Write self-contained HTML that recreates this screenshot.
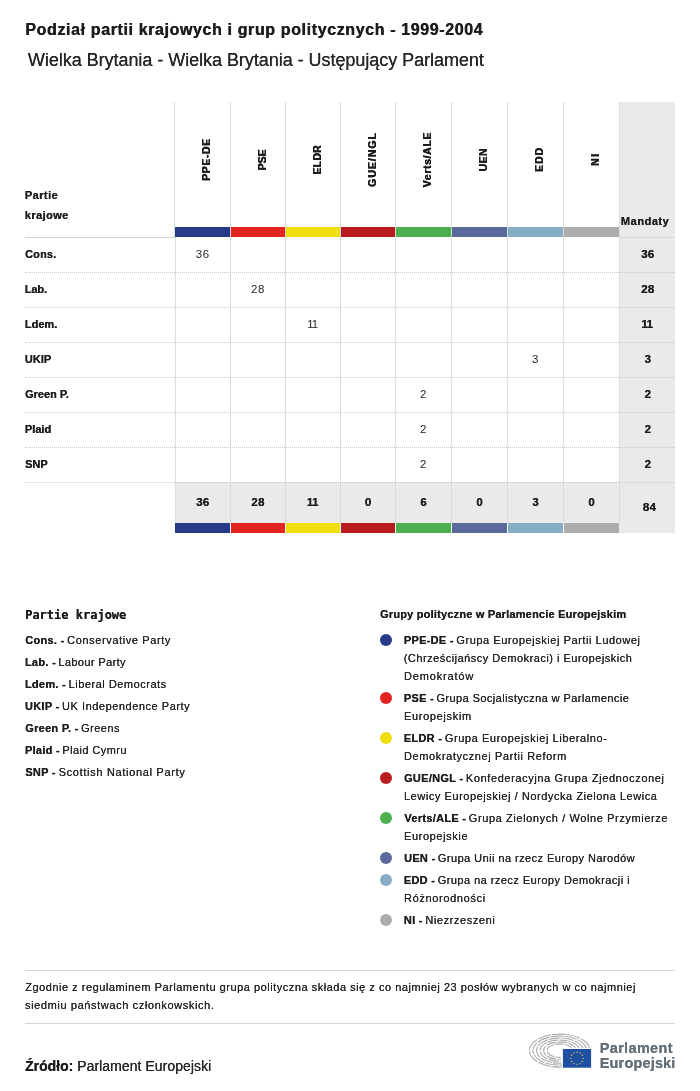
<!DOCTYPE html>
<html lang="pl"><head><meta charset="utf-8"><title>Podział partii krajowych i grup politycznych</title>
<style>
html,body{margin:0;padding:0;background:#fff;}
body{width:700px;height:1091px;position:relative;overflow:hidden;font-family:"Liberation Sans",sans-serif;color:#1d1d1b;}
span{text-shadow:0.12px 0 0 #262626;}
.ch span{text-shadow:0.4px 0 0 #1d1d1b,0 0.25px 0 #1d1d1b;}
.a{position:absolute;white-space:nowrap;}
b{font-weight:bold;}
.vl{position:absolute;width:1px;background:#dbdbdb;}
.hd{position:absolute;height:0;border-top:1px dotted #cbcbcb;left:25px;width:650px;}
.num{position:absolute;text-align:center;font-size:11.5px;line-height:14px;color:#262626;letter-spacing:0.6px;}
.tot{position:absolute;text-align:center;font-size:11.5px;line-height:14px;font-weight:bold;text-shadow:0.3px 0 0 #1d1d1b;color:#1d1d1b;letter-spacing:0.3px;}
.ch{position:absolute;font-size:10.5px;line-height:14px;font-weight:bold;text-shadow:0.4px 0 0 #1d1d1b,0 0.25px 0 #1d1d1b;transform:rotate(-90deg);transform-origin:center center;text-align:center;white-space:nowrap;width:100px;margin-left:-50px;}
.dot{position:absolute;width:12px;height:12px;border-radius:50%;}
</style></head><body>
<div style="position:absolute;left:619px;top:102px;width:56px;height:431px;background:#eaeaea;"></div>
<div style="position:absolute;left:175px;top:482px;width:445px;height:41px;background:#eaeaea;"></div>
<div class="vl" style="left:174px;top:102px;height:135px;"></div>
<div class="vl" style="left:175px;top:237px;height:286px;"></div>
<div class="vl" style="left:230.0px;top:102px;height:421px;"></div>
<div class="vl" style="left:285.0px;top:102px;height:421px;"></div>
<div class="vl" style="left:340.0px;top:102px;height:421px;"></div>
<div class="vl" style="left:395.0px;top:102px;height:421px;"></div>
<div class="vl" style="left:451.0px;top:102px;height:421px;"></div>
<div class="vl" style="left:507.0px;top:102px;height:421px;"></div>
<div class="vl" style="left:563.0px;top:102px;height:421px;"></div>
<div class="vl" style="left:619.0px;top:102px;height:421px;"></div>
<div style="position:absolute;left:25px;top:237px;width:150px;height:1px;background:#d2d2d2;"></div>
<div style="position:absolute;left:619px;top:237px;width:56px;height:1px;background:#d8d8d8;"></div>
<div class="hd" style="top:272px;"></div>
<div class="hd" style="top:307px;"></div>
<div class="hd" style="top:342px;"></div>
<div class="hd" style="top:377px;"></div>
<div class="hd" style="top:412px;"></div>
<div class="hd" style="top:447px;"></div>
<div class="hd" style="top:482px;"></div>
<div style="position:absolute;left:175.0px;top:227px;width:55.0px;height:10px;background:#263a8a;"></div>
<div style="position:absolute;left:175.0px;top:523px;width:55.0px;height:10px;background:#263a8a;"></div>
<div style="position:absolute;left:231.0px;top:227px;width:54.0px;height:10px;background:#e2231f;"></div>
<div style="position:absolute;left:231.0px;top:523px;width:54.0px;height:10px;background:#e2231f;"></div>
<div style="position:absolute;left:286.0px;top:227px;width:54.0px;height:10px;background:#f0de12;"></div>
<div style="position:absolute;left:286.0px;top:523px;width:54.0px;height:10px;background:#f0de12;"></div>
<div style="position:absolute;left:341.0px;top:227px;width:54.0px;height:10px;background:#b81c1f;"></div>
<div style="position:absolute;left:341.0px;top:523px;width:54.0px;height:10px;background:#b81c1f;"></div>
<div style="position:absolute;left:396.0px;top:227px;width:55.0px;height:10px;background:#4caf50;"></div>
<div style="position:absolute;left:396.0px;top:523px;width:55.0px;height:10px;background:#4caf50;"></div>
<div style="position:absolute;left:452.0px;top:227px;width:55.0px;height:10px;background:#5a6a9a;"></div>
<div style="position:absolute;left:452.0px;top:523px;width:55.0px;height:10px;background:#5a6a9a;"></div>
<div style="position:absolute;left:508.0px;top:227px;width:55.0px;height:10px;background:#86adc4;"></div>
<div style="position:absolute;left:508.0px;top:523px;width:55.0px;height:10px;background:#86adc4;"></div>
<div style="position:absolute;left:564.0px;top:227px;width:55.0px;height:10px;background:#adadad;"></div>
<div style="position:absolute;left:564.0px;top:523px;width:55.0px;height:10px;background:#adadad;"></div>
<div class="ch" style="left:205.9px;top:152.6px;letter-spacing:0.58px;"><span style="margin-right:-0.58px">PPE-DE</span></div>
<div class="ch" style="left:261.9px;top:152.6px;letter-spacing:-0.01px;"><span style="margin-right:0.01px">PSE</span></div>
<div class="ch" style="left:316.9px;top:152.6px;letter-spacing:0.22px;"><span style="margin-right:-0.22px">ELDR</span></div>
<div class="ch" style="left:371.9px;top:152.6px;letter-spacing:0.99px;"><span style="margin-right:-0.99px">GUE/NGL</span></div>
<div class="ch" style="left:427.4px;top:152.6px;letter-spacing:0.64px;"><span style="margin-right:-0.64px">Verts/ALE</span></div>
<div class="ch" style="left:483.4px;top:152.6px;letter-spacing:0.48px;"><span style="margin-right:-0.48px">UEN</span></div>
<div class="ch" style="left:539.4px;top:152.6px;letter-spacing:0.96px;"><span style="margin-right:-0.96px">EDD</span></div>
<div class="ch" style="left:595.4px;top:152.6px;letter-spacing:1.30px;"><span style="margin-right:-1.30px">NI</span></div>
<div class="num" style="left:174.8px;top:247px;width:56px;">36</div>
<div class="tot" style="left:620.0px;top:247px;width:55.6px;">36</div>
<div class="num" style="left:230.0px;top:282px;width:56px;">28</div>
<div class="tot" style="left:620.0px;top:282px;width:55.6px;">28</div>
<div class="num" style="left:284.1px;top:317px;width:56px;letter-spacing:-1.1px;">11</div>
<div class="tot" style="left:619.1px;top:317px;width:55.6px;letter-spacing:-0.4px;">11</div>
<div class="num" style="left:507.5px;top:352px;width:56px;">3</div>
<div class="tot" style="left:620.0px;top:352px;width:55.6px;">3</div>
<div class="num" style="left:395.5px;top:387px;width:56px;">2</div>
<div class="tot" style="left:620.0px;top:387px;width:55.6px;">2</div>
<div class="num" style="left:395.5px;top:422px;width:56px;">2</div>
<div class="tot" style="left:620.0px;top:422px;width:55.6px;">2</div>
<div class="num" style="left:395.5px;top:457px;width:56px;">2</div>
<div class="tot" style="left:620.0px;top:457px;width:55.6px;">2</div>
<div class="tot" style="left:174.8px;top:495px;width:56px;">36</div>
<div class="tot" style="left:230.0px;top:495px;width:56px;">28</div>
<div class="tot" style="left:284.4px;top:495px;width:56px;letter-spacing:-0.4px;">11</div>
<div class="tot" style="left:340.0px;top:495px;width:56px;">0</div>
<div class="tot" style="left:395.5px;top:495px;width:56px;">6</div>
<div class="tot" style="left:451.5px;top:495px;width:56px;">0</div>
<div class="tot" style="left:507.5px;top:495px;width:56px;">3</div>
<div class="tot" style="left:563.5px;top:495px;width:56px;">0</div>
<div class="tot" style="left:620px;top:500px;width:59px;">84</div>
<div class="a" style="left:25.14px;top:20px;font-size:16px;line-height:20px;font-family:'Liberation Sans',sans-serif"><b style="color:#1d1d1b;letter-spacing:0.62px;text-shadow:0.45px 0 0 #1d1d1b">Podział partii krajowych i grup politycznych - 1999-2004</b></div>
<div class="a" style="left:27.86px;top:50px;font-size:18px;line-height:20px;font-family:'Liberation Sans',sans-serif"><span style="color:#262626;letter-spacing:-0.04px">Wielka Brytania - Wielka Brytania - Ustępujący Parlament</span></div>
<div class="a" style="left:24.77px;top:185px;font-size:11px;line-height:20px;font-family:'Liberation Sans',sans-serif"><b style="color:#1d1d1b;letter-spacing:0.44px;text-shadow:0.3px 0 0 #1d1d1b">Partie</b></div>
<div class="a" style="left:24.80px;top:205px;font-size:11px;line-height:20px;font-family:'Liberation Sans',sans-serif"><b style="color:#1d1d1b;letter-spacing:0.40px;text-shadow:0.3px 0 0 #1d1d1b">krajowe</b></div>
<div class="a" style="left:620.80px;top:211px;font-size:11px;line-height:20px;font-family:'Liberation Sans',sans-serif"><b style="color:#1d1d1b;letter-spacing:0.53px;text-shadow:0.3px 0 0 #1d1d1b">Mandaty</b></div>
<div class="a" style="left:24.88px;top:244px;font-size:11px;line-height:20px;font-family:'Liberation Sans',sans-serif"><b style="color:#1d1d1b;letter-spacing:0.17px;text-shadow:0.3px 0 0 #1d1d1b">Cons.</b></div>
<div class="a" style="left:24.77px;top:279px;font-size:11px;line-height:20px;font-family:'Liberation Sans',sans-serif"><b style="color:#1d1d1b;letter-spacing:-0.16px;text-shadow:0.3px 0 0 #1d1d1b">Lab.</b></div>
<div class="a" style="left:24.77px;top:314px;font-size:11px;line-height:20px;font-family:'Liberation Sans',sans-serif"><b style="color:#1d1d1b;letter-spacing:0;text-shadow:0.3px 0 0 #1d1d1b">Ldem.</b></div>
<div class="a" style="left:24.82px;top:349px;font-size:11px;line-height:20px;font-family:'Liberation Sans',sans-serif"><b style="color:#1d1d1b;letter-spacing:0;text-shadow:0.3px 0 0 #1d1d1b">UKIP</b></div>
<div class="a" style="left:24.88px;top:384px;font-size:11px;line-height:20px;font-family:'Liberation Sans',sans-serif"><b style="color:#1d1d1b;letter-spacing:0;text-shadow:0.3px 0 0 #1d1d1b">Green P.</b></div>
<div class="a" style="left:24.77px;top:419px;font-size:11px;line-height:20px;font-family:'Liberation Sans',sans-serif"><b style="color:#1d1d1b;letter-spacing:0;text-shadow:0.3px 0 0 #1d1d1b">Plaid</b></div>
<div class="a" style="left:24.97px;top:454px;font-size:11px;line-height:20px;font-family:'Liberation Sans',sans-serif"><b style="color:#1d1d1b;letter-spacing:0;text-shadow:0.3px 0 0 #1d1d1b">SNP</b></div>
<div class="a" style="left:25.17px;top:605px;font-size:12px;line-height:20px;font-family:'DejaVu Sans Mono','Liberation Mono',monospace"><b style="color:#1d1d1b;letter-spacing:0;text-shadow:0px 0 0 #1d1d1b">Partie krajowe</b></div>
<div class="a" style="left:25.17px;top:630px;font-size:11px;line-height:20px;font-family:'Liberation Sans',sans-serif"><b style="color:#1d1d1b;letter-spacing:0.28px;text-shadow:0.2px 0 0 #1d1d1b">Cons. -</b><span style="color:#262626;letter-spacing:0.61px;margin-left:-1px"> Conservative Party</span></div>
<div class="a" style="left:24.88px;top:652px;font-size:11px;line-height:20px;font-family:'Liberation Sans',sans-serif"><b style="color:#1d1d1b;letter-spacing:0.28px;text-shadow:0.2px 0 0 #1d1d1b">Lab. -</b><span style="color:#262626;letter-spacing:0.38px;margin-left:-1px"> Labour Party</span></div>
<div class="a" style="left:24.88px;top:674px;font-size:11px;line-height:20px;font-family:'Liberation Sans',sans-serif"><b style="color:#1d1d1b;letter-spacing:0.28px;text-shadow:0.2px 0 0 #1d1d1b">Ldem. -</b><span style="color:#262626;letter-spacing:0.52px;margin-left:-1px"> Liberal Democrats</span></div>
<div class="a" style="left:24.92px;top:696px;font-size:11px;line-height:20px;font-family:'Liberation Sans',sans-serif"><b style="color:#1d1d1b;letter-spacing:0.28px;text-shadow:0.2px 0 0 #1d1d1b">UKIP -</b><span style="color:#262626;letter-spacing:0.54px;margin-left:-1px"> UK Independence Party</span></div>
<div class="a" style="left:25.17px;top:718px;font-size:11px;line-height:20px;font-family:'Liberation Sans',sans-serif"><b style="color:#1d1d1b;letter-spacing:0.28px;text-shadow:0.2px 0 0 #1d1d1b">Green P. -</b><span style="color:#262626;letter-spacing:0.46px;margin-left:-1px"> Greens</span></div>
<div class="a" style="left:24.88px;top:740px;font-size:11px;line-height:20px;font-family:'Liberation Sans',sans-serif"><b style="color:#1d1d1b;letter-spacing:0.28px;text-shadow:0.2px 0 0 #1d1d1b">Plaid -</b><span style="color:#262626;letter-spacing:0.42px;margin-left:-1px"> Plaid Cymru</span></div>
<div class="a" style="left:25.26px;top:762px;font-size:11px;line-height:20px;font-family:'Liberation Sans',sans-serif"><b style="color:#1d1d1b;letter-spacing:0.28px;text-shadow:0.2px 0 0 #1d1d1b">SNP -</b><span style="color:#262626;letter-spacing:0.68px;margin-left:-1px"> Scottish National Party</span></div>
<div class="a" style="left:380.02px;top:604px;font-size:11px;line-height:20px;font-family:'Liberation Sans',sans-serif"><b style="color:#1d1d1b;letter-spacing:0.20px;text-shadow:0.2px 0 0 #1d1d1b">Grupy polityczne w Parlamencie Europejskim</b></div>
<div class="a" style="left:403.77px;top:630px;font-size:11px;line-height:20px;font-family:'Liberation Sans',sans-serif"><b style="color:#1d1d1b;letter-spacing:0.28px;text-shadow:0.2px 0 0 #1d1d1b">PPE-DE -</b><span style="color:#262626;letter-spacing:0.56px;margin-left:-1px"> Grupa Europejskiej Partii Ludowej</span></div>
<div class="a" style="left:403.73px;top:648px;font-size:11px;line-height:20px;font-family:'Liberation Sans',sans-serif"><span style="color:#262626;letter-spacing:0.49px">(Chrześcijańscy Demokraci) i Europejskich</span></div>
<div class="a" style="left:403.94px;top:666px;font-size:11px;line-height:20px;font-family:'Liberation Sans',sans-serif"><span style="color:#262626;letter-spacing:0.84px">Demokratów</span></div>
<div class="a" style="left:403.77px;top:688px;font-size:11px;line-height:20px;font-family:'Liberation Sans',sans-serif"><b style="color:#1d1d1b;letter-spacing:0.28px;text-shadow:0.2px 0 0 #1d1d1b">PSE -</b><span style="color:#262626;letter-spacing:0.42px;margin-left:-1px"> Grupa Socjalistyczna w Parlamencie</span></div>
<div class="a" style="left:403.94px;top:706px;font-size:11px;line-height:20px;font-family:'Liberation Sans',sans-serif"><span style="color:#262626;letter-spacing:0.66px">Europejskim</span></div>
<div class="a" style="left:403.77px;top:728px;font-size:11px;line-height:20px;font-family:'Liberation Sans',sans-serif"><b style="color:#1d1d1b;letter-spacing:0.28px;text-shadow:0.2px 0 0 #1d1d1b">ELDR -</b><span style="color:#262626;letter-spacing:0.59px;margin-left:-1px"> Grupa Europejskiej Liberalno-</span></div>
<div class="a" style="left:403.94px;top:746px;font-size:11px;line-height:20px;font-family:'Liberation Sans',sans-serif"><span style="color:#262626;letter-spacing:0.60px">Demokratycznej Partii Reform</span></div>
<div class="a" style="left:404.02px;top:768px;font-size:11px;line-height:20px;font-family:'Liberation Sans',sans-serif"><b style="color:#1d1d1b;letter-spacing:0.28px;text-shadow:0.2px 0 0 #1d1d1b">GUE/NGL -</b><span style="color:#262626;letter-spacing:0.61px;margin-left:-1px"> Konfederacyjna Grupa Zjednoczonej</span></div>
<div class="a" style="left:403.94px;top:786px;font-size:11px;line-height:20px;font-family:'Liberation Sans',sans-serif"><span style="color:#262626;letter-spacing:0.55px">Lewicy Europejskiej / Nordycka Zielona Lewica</span></div>
<div class="a" style="left:404.33px;top:808px;font-size:11px;line-height:20px;font-family:'Liberation Sans',sans-serif"><b style="color:#1d1d1b;letter-spacing:0.28px;text-shadow:0.2px 0 0 #1d1d1b">Verts/ALE -</b><span style="color:#262626;letter-spacing:0.60px;margin-left:-1px"> Grupa Zielonych / Wolne Przymierze</span></div>
<div class="a" style="left:403.94px;top:826px;font-size:11px;line-height:20px;font-family:'Liberation Sans',sans-serif"><span style="color:#262626;letter-spacing:0.61px">Europejskie</span></div>
<div class="a" style="left:404.00px;top:848px;font-size:11px;line-height:20px;font-family:'Liberation Sans',sans-serif"><b style="color:#1d1d1b;letter-spacing:0.28px;text-shadow:0.2px 0 0 #1d1d1b">UEN -</b><span style="color:#262626;letter-spacing:0.44px;margin-left:-1px"> Grupa Unii na rzecz Europy Narodów</span></div>
<div class="a" style="left:403.77px;top:870px;font-size:11px;line-height:20px;font-family:'Liberation Sans',sans-serif"><b style="color:#1d1d1b;letter-spacing:0.28px;text-shadow:0.2px 0 0 #1d1d1b">EDD -</b><span style="color:#262626;letter-spacing:0.46px;margin-left:-1px"> Grupa na rzecz Europy Demokracji i</span></div>
<div class="a" style="left:403.94px;top:888px;font-size:11px;line-height:20px;font-family:'Liberation Sans',sans-serif"><span style="color:#262626;letter-spacing:0.65px">Różnorodności</span></div>
<div class="a" style="left:403.77px;top:910px;font-size:11px;line-height:20px;font-family:'Liberation Sans',sans-serif"><b style="color:#1d1d1b;letter-spacing:0.28px;text-shadow:0.2px 0 0 #1d1d1b">NI -</b><span style="color:#262626;letter-spacing:0.59px;margin-left:-1px"> Niezrzeszeni</span></div>
<div class="a" style="left:25.15px;top:977px;font-size:11px;line-height:20px;font-family:'Liberation Sans',sans-serif"><span style="color:#262626;letter-spacing:0.52px">Zgodnie z regulaminem Parlamentu grupa polityczna składa się z co najmniej 23 posłów wybranych w co najmniej</span></div>
<div class="a" style="left:24.96px;top:995px;font-size:11px;line-height:20px;font-family:'Liberation Sans',sans-serif"><span style="color:#262626;letter-spacing:0.61px">siedmiu państwach członkowskich.</span></div>
<div class="a" style="left:25.01px;top:1056px;font-size:14px;line-height:20px;font-family:'Liberation Sans',sans-serif"><b style="color:#1d1d1b;letter-spacing:0;text-shadow:0.25px 0 0 #1d1d1b">Źródło:</b><span style="color:#262626;letter-spacing:0.05px"> Parlament Europejski</span></div>
<div class="a" style="left:599.73px;top:1038px;font-size:14.5px;line-height:20px;font-family:'Liberation Sans',sans-serif"><b style="color:#656f78;letter-spacing:0.34px;text-shadow:0px 0 0 #656f78">Parlament</b></div>
<div class="a" style="left:599.73px;top:1053px;font-size:14.5px;line-height:20px;font-family:'Liberation Sans',sans-serif"><b style="color:#656f78;letter-spacing:0.17px;text-shadow:0px 0 0 #656f78">Europejski</b></div>
<div class="dot" style="left:380.3px;top:634.0px;background:#263a8a;"></div>
<div class="dot" style="left:380.3px;top:692.0px;background:#e2231f;"></div>
<div class="dot" style="left:380.3px;top:732.0px;background:#f0de12;"></div>
<div class="dot" style="left:380.3px;top:772.0px;background:#b81c1f;"></div>
<div class="dot" style="left:380.3px;top:812.0px;background:#4caf50;"></div>
<div class="dot" style="left:380.3px;top:852.0px;background:#5a6a9a;"></div>
<div class="dot" style="left:380.3px;top:874.0px;background:#86adc4;"></div>
<div class="dot" style="left:380.3px;top:914.0px;background:#adadad;"></div>
<div style="position:absolute;left:25px;top:970px;width:650px;height:1px;background:#d6d6d6;"></div>
<div style="position:absolute;left:25px;top:1023px;width:650px;height:1px;background:#d6d6d6;"></div>
<svg style="position:absolute;left:525px;top:1030px;" width="70" height="42" viewBox="0 0 70 42">
<g fill="none" stroke="#a9acaf" stroke-width="1.1" stroke-linecap="butt">
<path d="M64.90 18.30 A30.40 16.50 0 1 0 36.92 37.06" stroke-dasharray="13.6 1.1"/>
<path d="M61.39 18.58 A26.85 14.55 0 1 0 36.67 35.11" stroke-dasharray="12.7 1.1"/>
<path d="M57.87 18.85 A23.30 12.60 0 1 0 36.43 33.17" stroke-dasharray="11.8 1.1"/>
<path d="M54.36 19.12 A19.75 10.65 0 1 0 36.18 31.22" stroke-dasharray="10.9 1.1"/>
<path d="M50.84 19.39 A16.20 8.70 0 1 0 35.93 29.28" stroke-dasharray="10.1 1.1"/>
<path d="M47.33 19.66 A12.65 6.75 0 1 0 35.68 27.33" stroke-dasharray="9.2 1.1"/>
</g>
<rect x="36.9" y="18.0" width="30.2" height="20.7" fill="#fff"/>
<rect x="37.9" y="19.0" width="28.2" height="18.7" fill="#1f4fa3"/>
<g fill="#ecd444">
<circle cx="52.00" cy="22.15" r="0.65"/>
<circle cx="55.10" cy="22.98" r="0.65"/>
<circle cx="57.37" cy="25.25" r="0.65"/>
<circle cx="58.20" cy="28.35" r="0.65"/>
<circle cx="57.37" cy="31.45" r="0.65"/>
<circle cx="55.10" cy="33.72" r="0.65"/>
<circle cx="52.00" cy="34.55" r="0.65"/>
<circle cx="48.90" cy="33.72" r="0.65"/>
<circle cx="46.63" cy="31.45" r="0.65"/>
<circle cx="45.80" cy="28.35" r="0.65"/>
<circle cx="46.63" cy="25.25" r="0.65"/>
<circle cx="48.90" cy="22.98" r="0.65"/>
</g></svg>
</body></html>
